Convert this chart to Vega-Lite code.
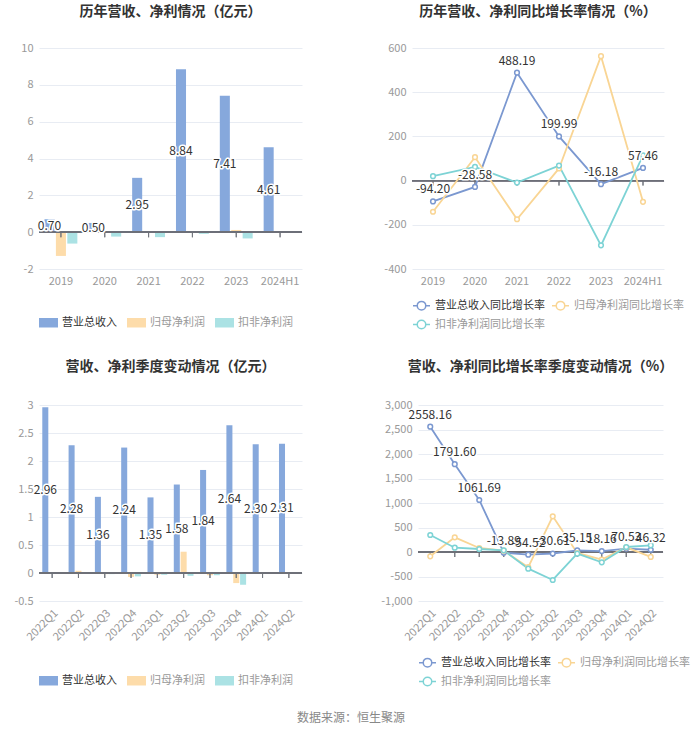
{
  "$schema": "https://vega.github.io/schema/vega-lite/v6.json",
  "background": "white",
  "padding": {"left": 12, "top": 5, "right": 5, "bottom": 5},
  "title": {"text": "数据来源：恒生聚源", "orient": "bottom", "anchor": "middle", "fontSize": 12, "fontWeight": "normal", "color": "#888888", "offset": 24},
  "config": {
    "font": "Noto Sans CJK SC",
    "view": {"stroke": null},
    "locale": {"number": {"decimal": ".", "thousands": ",", "grouping": [3], "currency": ["", ""], "minus": "-"}},
    "axis": {"domain": false, "ticks": false, "labelColor": "#999999", "labelFontSize": 11, "gridColor": "#e8ecf3", "labelPadding": 6},
    "axisX": {"grid": false},
    "axisY": {"labelOverlap": false},
    "title": {"fontSize": 14, "fontWeight": "bold", "color": "#333333", "anchor": "middle", "offset": 23},
    "legend": {"orient": "bottom", "direction": "horizontal", "title": null, "labelFontSize": 11, "labelColor": "#999999", "labelLimit": 300}
  },
  "spacing": 28,
  "resolve": {"scale": {"color": "independent", "stroke": "independent", "xOffset": "independent"}, "legend": {"color": "independent", "stroke": "independent"}},
  "vconcat": [
    {
      "spacing": 80,
      "resolve": {"scale": {"color": "independent", "stroke": "independent", "xOffset": "independent"}, "legend": {"color": "independent", "stroke": "independent"}},
      "hconcat": [
        {
          "width": 263, "height": 221,
          "title": "历年营收、净利情况（亿元）",
          "data": {"values": [
            {"year": "2019", "series": "营业总收入", "value": 0.70},
            {"year": "2019", "series": "归母净利润", "value": -1.29},
            {"year": "2019", "series": "扣非净利润", "value": -0.62},
            {"year": "2020", "series": "营业总收入", "value": 0.50},
            {"year": "2020", "series": "归母净利润", "value": 0.06},
            {"year": "2020", "series": "扣非净利润", "value": -0.24},
            {"year": "2021", "series": "营业总收入", "value": 2.95},
            {"year": "2021", "series": "归母净利润", "value": -0.03},
            {"year": "2021", "series": "扣非净利润", "value": -0.27},
            {"year": "2022", "series": "营业总收入", "value": 8.84},
            {"year": "2022", "series": "归母净利润", "value": -0.02},
            {"year": "2022", "series": "扣非净利润", "value": -0.09},
            {"year": "2023", "series": "营业总收入", "value": 7.41},
            {"year": "2023", "series": "归母净利润", "value": 0.12},
            {"year": "2023", "series": "扣非净利润", "value": -0.34},
            {"year": "2024H1", "series": "营业总收入", "value": 4.61},
            {"year": "2024H1", "series": "归母净利润", "value": -0.01},
            {"year": "2024H1", "series": "扣非净利润", "value": 0.01}
          ]},
          "layer": [
            {
              "layer": [
                {
                  "mark": {"type": "bar"},
                  "encoding": {
                    "x": {"field": "year", "type": "nominal", "sort": null, "title": null, "scale": {"paddingInner": 0.25, "paddingOuter": 0.125}, "axis": {"labelAngle": 0}},
                    "xOffset": {"field": "series", "type": "nominal", "sort": null, "scale": {"domain": ["营业总收入", "归母净利润", "扣非净利润"], "paddingInner": 0.12}},
                    "y": {"field": "value", "type": "quantitative", "title": null, "scale": {"domain": [-2, 10], "nice": false}, "axis": {"values": [-2, 0, 2, 4, 6, 8, 10], "tickCount": 7, "format": "d", "minExtent": 27, "labelOverlap": false}},
                    "color": {"field": "series", "type": "nominal", "scale": {"domain": ["营业总收入", "归母净利润", "扣非净利润"], "range": ["#86a8dc", "#fddcaa", "#abe2e4"]},
                      "legend": {"offset": 27, "symbolType": "M-1,-0.5H1V0.5H-1Z", "symbolSize": 361, "symbolStrokeWidth": 0, "columnPadding": 10,
                        "encode": {"labels": {"update": {"fill": {"signal": "datum.value == '营业总收入' ? '#333333' : '#999999'"}}}}}}
                  }
                },
                {"mark": {"type": "rule", "color": "#6e7079", "strokeWidth": 1}, "encoding": {"y": {"datum": 0}}},
                {"mark": {"type": "tick", "orient": "vertical", "size": 5, "thickness": 1, "yOffset": 2.5, "color": "#6e7079"},
                  "encoding": {"x": {"field": "year", "type": "nominal", "sort": null}, "y": {"datum": 0}}}
              ]
            },
            {
              "transform": [{"filter": "datum.series == '营业总收入'"}],
              "encoding": {
                "x": {"field": "year", "type": "nominal", "sort": null},
                "xOffset": {"field": "series", "type": "nominal", "sort": null, "scale": {"domain": ["营业总收入", "归母净利润", "扣非净利润"]}},
                "y": {"field": "value", "type": "quantitative", "scale": {"domain": [-4, 20], "nice": false}, "axis": null},
                "text": {"field": "value", "type": "quantitative", "format": ".2f"}
              },
              "layer": [
                {"mark": {"type": "text", "fontSize": 12, "fill": "white", "stroke": "white", "strokeWidth": 3, "strokeJoin": "round"}},
                {"mark": {"type": "text", "fontSize": 12, "fill": "#333333"}}
              ]
            }
          ],
          "resolve": {"scale": {"y": "independent"}}
        },
        {
          "width": 252, "height": 221,
          "title": "历年营收、净利同比增长率情况（%）",
          "data": {"values": [
            {"year": "2019", "series": "营业总收入同比增长率", "value": -94.20},
            {"year": "2020", "series": "营业总收入同比增长率", "value": -28.58},
            {"year": "2021", "series": "营业总收入同比增长率", "value": 488.19},
            {"year": "2022", "series": "营业总收入同比增长率", "value": 199.99},
            {"year": "2023", "series": "营业总收入同比增长率", "value": -16.18},
            {"year": "2024H1", "series": "营业总收入同比增长率", "value": 57.46},
            {"year": "2019", "series": "归母净利润同比增长率", "value": -141},
            {"year": "2020", "series": "归母净利润同比增长率", "value": 106},
            {"year": "2021", "series": "归母净利润同比增长率", "value": -175},
            {"year": "2022", "series": "归母净利润同比增长率", "value": 55},
            {"year": "2023", "series": "归母净利润同比增长率", "value": 563},
            {"year": "2024H1", "series": "归母净利润同比增长率", "value": -96},
            {"year": "2019", "series": "扣非净利润同比增长率", "value": 20},
            {"year": "2020", "series": "扣非净利润同比增长率", "value": 62},
            {"year": "2021", "series": "扣非净利润同比增长率", "value": -9},
            {"year": "2022", "series": "扣非净利润同比增长率", "value": 68},
            {"year": "2023", "series": "扣非净利润同比增长率", "value": -293},
            {"year": "2024H1", "series": "扣非净利润同比增长率", "value": 114}
          ]},
          "encoding": {
            "x": {"field": "year", "type": "nominal", "sort": null, "title": null, "scale": {"paddingInner": 0, "paddingOuter": 0}, "axis": {"labelAngle": 0}},
            "y": {"field": "value", "type": "quantitative", "title": null, "scale": {"domain": [-400, 600], "nice": false}, "axis": {"values": [-400, -200, 0, 200, 400, 600]}}
          },
          "layer": [
            {"mark": {"type": "rule", "color": "#6e7079", "strokeWidth": 1}, "encoding": {"x": {"value": 0}, "x2": {"value": 252}, "y": {"datum": 0}}},
            {"mark": {"type": "tick", "orient": "vertical", "size": 5, "thickness": 1, "yOffset": 2.5, "color": "#6e7079"}, "encoding": {"y": {"datum": 0}}},
            {"mark": {"type": "line", "strokeWidth": 1.8},
              "encoding": {"color": {"field": "series", "type": "nominal", "sort": null,
                "scale": {"domain": ["营业总收入同比增长率", "归母净利润同比增长率", "扣非净利润同比增长率"], "range": ["#7b98d0", "#f9d594", "#7dd3d5"]},
                "legend": {"columns": 2, "offset": 10, "symbolType": "M-1,0H-0.5M0.5,0H1M0.5,0A0.5,0.5,0,1,1,-0.5,0A0.5,0.5,0,1,1,0.5,0", "symbolSize": 289, "symbolStrokeWidth": 1.5, "symbolFillColor": "white", "columnPadding": 4, "rowPadding": 2,
                  "encode": {"labels": {"update": {"fill": {"signal": "datum.value == '营业总收入同比增长率' ? '#333333' : '#999999'"}}}}}}}},
            {"mark": {"type": "point", "filled": true, "fill": "white", "size": 22, "strokeWidth": 1.5, "opacity": 1},
              "encoding": {"stroke": {"field": "series", "type": "nominal", "scale": {"domain": ["营业总收入同比增长率", "归母净利润同比增长率", "扣非净利润同比增长率"], "range": ["#7b98d0", "#f9d594", "#7dd3d5"]}, "legend": null}}},
            {"transform": [{"filter": "datum.series == '营业总收入同比增长率'"}],
              "mark": {"type": "text", "fontSize": 12, "baseline": "bottom", "dy": -5, "fill": "white", "stroke": "white", "strokeWidth": 3, "strokeJoin": "round"},
              "encoding": {"text": {"field": "value", "type": "quantitative", "format": ".2f"}}},
            {"transform": [{"filter": "datum.series == '营业总收入同比增长率'"}],
              "mark": {"type": "text", "fontSize": 12, "baseline": "bottom", "dy": -5, "fill": "#333333"},
              "encoding": {"text": {"field": "value", "type": "quantitative", "format": ".2f"}}}
          ]
        }
      ]
    },
    {
      "spacing": 77,
      "resolve": {"scale": {"color": "independent", "stroke": "independent", "xOffset": "independent"}, "legend": {"color": "independent", "stroke": "independent"}},
      "hconcat": [
        {
          "width": 263, "height": 196,
          "title": {"text": "营收、净利季度变动情况（亿元）", "offset": 25},
          "data": {"values": [
            {"q": "2022Q1", "series": "营业总收入", "value": 2.96},
            {"q": "2022Q1", "series": "归母净利润", "value": 0.01},
            {"q": "2022Q1", "series": "扣非净利润", "value": 0.01},
            {"q": "2022Q2", "series": "营业总收入", "value": 2.28},
            {"q": "2022Q2", "series": "归母净利润", "value": 0.04},
            {"q": "2022Q2", "series": "扣非净利润", "value": 0.0},
            {"q": "2022Q3", "series": "营业总收入", "value": 1.36},
            {"q": "2022Q3", "series": "归母净利润", "value": -0.02},
            {"q": "2022Q3", "series": "扣非净利润", "value": -0.02},
            {"q": "2022Q4", "series": "营业总收入", "value": 2.24},
            {"q": "2022Q4", "series": "归母净利润", "value": -0.07},
            {"q": "2022Q4", "series": "扣非净利润", "value": -0.06},
            {"q": "2023Q1", "series": "营业总收入", "value": 1.35},
            {"q": "2023Q1", "series": "归母净利润", "value": -0.03},
            {"q": "2023Q1", "series": "扣非净利润", "value": -0.03},
            {"q": "2023Q2", "series": "营业总收入", "value": 1.58},
            {"q": "2023Q2", "series": "归母净利润", "value": 0.38},
            {"q": "2023Q2", "series": "扣非净利润", "value": -0.05},
            {"q": "2023Q3", "series": "营业总收入", "value": 1.84},
            {"q": "2023Q3", "series": "归母净利润", "value": -0.04},
            {"q": "2023Q3", "series": "扣非净利润", "value": -0.04},
            {"q": "2023Q4", "series": "营业总收入", "value": 2.64},
            {"q": "2023Q4", "series": "归母净利润", "value": -0.18},
            {"q": "2023Q4", "series": "扣非净利润", "value": -0.21},
            {"q": "2024Q1", "series": "营业总收入", "value": 2.30},
            {"q": "2024Q1", "series": "归母净利润", "value": 0.0},
            {"q": "2024Q1", "series": "扣非净利润", "value": 0.0},
            {"q": "2024Q2", "series": "营业总收入", "value": 2.31},
            {"q": "2024Q2", "series": "归母净利润", "value": 0.0},
            {"q": "2024Q2", "series": "扣非净利润", "value": 0.01}
          ]},
          "layer": [
            {
              "layer": [
                {
                  "mark": {"type": "bar"},
                  "encoding": {
                    "x": {"field": "q", "type": "nominal", "sort": null, "title": null, "scale": {"paddingInner": 0.25, "paddingOuter": 0.125}, "axis": {"labelAngle": -45}},
                    "xOffset": {"field": "series", "type": "nominal", "sort": null, "scale": {"domain": ["营业总收入", "归母净利润", "扣非净利润"], "paddingInner": 0.12}},
                    "y": {"field": "value", "type": "quantitative", "title": null, "scale": {"domain": [-0.5, 3], "nice": false}, "axis": {"values": [-0.5, 0, 0.5, 1, 1.5, 2, 2.5, 3], "tickCount": 8, "format": "~g", "minExtent": 27, "labelOverlap": false}},
                    "color": {"field": "series", "type": "nominal", "scale": {"domain": ["营业总收入", "归母净利润", "扣非净利润"], "range": ["#86a8dc", "#fddcaa", "#abe2e4"]},
                      "legend": {"offset": 28, "symbolType": "M-1,-0.5H1V0.5H-1Z", "symbolSize": 361, "symbolStrokeWidth": 0, "columnPadding": 10,
                        "encode": {"labels": {"update": {"fill": {"signal": "datum.value == '营业总收入' ? '#333333' : '#999999'"}}}}}}
                  }
                },
                {"mark": {"type": "rule", "color": "#6e7079", "strokeWidth": 1}, "encoding": {"y": {"datum": 0}}},
                {"mark": {"type": "tick", "orient": "vertical", "size": 5, "thickness": 1, "yOffset": 2.5, "color": "#6e7079"},
                  "encoding": {"x": {"field": "q", "type": "nominal", "sort": null}, "y": {"datum": 0}}}
              ]
            },
            {
              "transform": [{"filter": "datum.series == '营业总收入'"}],
              "encoding": {
                "x": {"field": "q", "type": "nominal", "sort": null},
                "xOffset": {"field": "series", "type": "nominal", "sort": null, "scale": {"domain": ["营业总收入", "归母净利润", "扣非净利润"]}},
                "y": {"field": "value", "type": "quantitative", "scale": {"domain": [-1, 6], "nice": false}, "axis": null},
                "text": {"field": "value", "type": "quantitative", "format": ".2f"}
              },
              "layer": [
                {"mark": {"type": "text", "fontSize": 12, "fill": "white", "stroke": "white", "strokeWidth": 3, "strokeJoin": "round"}},
                {"mark": {"type": "text", "fontSize": 12, "fill": "#333333"}}
              ]
            }
          ],
          "resolve": {"scale": {"y": "independent"}}
        },
        {
          "width": 245, "height": 196,
          "title": {"text": "营收、净利同比增长率季度变动情况（%）", "offset": 25},
          "data": {"values": [
            {"q": "2022Q1", "series": "营业总收入同比增长率", "value": 2558.16},
            {"q": "2022Q2", "series": "营业总收入同比增长率", "value": 1791.60},
            {"q": "2022Q3", "series": "营业总收入同比增长率", "value": 1061.69},
            {"q": "2022Q4", "series": "营业总收入同比增长率", "value": -13.89},
            {"q": "2023Q1", "series": "营业总收入同比增长率", "value": -54.52},
            {"q": "2023Q2", "series": "营业总收入同比增长率", "value": -30.61},
            {"q": "2023Q3", "series": "营业总收入同比增长率", "value": 35.15},
            {"q": "2023Q4", "series": "营业总收入同比增长率", "value": 18.16},
            {"q": "2024Q1", "series": "营业总收入同比增长率", "value": 70.53},
            {"q": "2024Q2", "series": "营业总收入同比增长率", "value": 46.32},
            {"q": "2022Q1", "series": "归母净利润同比增长率", "value": -88},
            {"q": "2022Q2", "series": "归母净利润同比增长率", "value": 299},
            {"q": "2022Q3", "series": "归母净利润同比增长率", "value": 82},
            {"q": "2022Q4", "series": "归母净利润同比增长率", "value": 27},
            {"q": "2023Q1", "series": "归母净利润同比增长率", "value": -310},
            {"q": "2023Q2", "series": "归母净利润同比增长率", "value": 728},
            {"q": "2023Q3", "series": "归母净利润同比增长率", "value": -20},
            {"q": "2023Q4", "series": "归母净利润同比增长率", "value": -156},
            {"q": "2024Q1", "series": "归母净利润同比增长率", "value": 95},
            {"q": "2024Q2", "series": "归母净利润同比增长率", "value": -100},
            {"q": "2022Q1", "series": "扣非净利润同比增长率", "value": 347},
            {"q": "2022Q2", "series": "扣非净利润同比增长率", "value": 88},
            {"q": "2022Q3", "series": "扣非净利润同比增长率", "value": 61},
            {"q": "2022Q4", "series": "扣非净利润同比增长率", "value": 34},
            {"q": "2023Q1", "series": "扣非净利润同比增长率", "value": -340},
            {"q": "2023Q2", "series": "扣非净利润同比增长率", "value": -571},
            {"q": "2023Q3", "series": "扣非净利润同比增长率", "value": -34},
            {"q": "2023Q4", "series": "扣非净利润同比增长率", "value": -211},
            {"q": "2024Q1", "series": "扣非净利润同比增长率", "value": 102},
            {"q": "2024Q2", "series": "扣非净利润同比增长率", "value": 136}
          ]},
          "encoding": {
            "x": {"field": "q", "type": "nominal", "sort": null, "title": null, "scale": {"paddingInner": 0, "paddingOuter": 0}, "axis": {"labelAngle": -45}},
            "y": {"field": "value", "type": "quantitative", "title": null, "scale": {"domain": [-1000, 3000], "nice": false}, "axis": {"values": [-1000, -500, 0, 500, 1000, 1500, 2000, 2500, 3000], "format": ",.0f"}}
          },
          "layer": [
            {"mark": {"type": "rule", "color": "#6e7079", "strokeWidth": 1}, "encoding": {"x": {"value": 0}, "x2": {"value": 245}, "y": {"datum": 0}}},
            {"mark": {"type": "tick", "orient": "vertical", "size": 5, "thickness": 1, "yOffset": 2.5, "color": "#6e7079"}, "encoding": {"y": {"datum": 0}}},
            {"mark": {"type": "line", "strokeWidth": 1.8},
              "encoding": {"color": {"field": "series", "type": "nominal", "sort": null,
                "scale": {"domain": ["营业总收入同比增长率", "归母净利润同比增长率", "扣非净利润同比增长率"], "range": ["#7b98d0", "#f9d594", "#7dd3d5"]},
                "legend": {"columns": 2, "offset": 10, "symbolType": "M-1,0H-0.5M0.5,0H1M0.5,0A0.5,0.5,0,1,1,-0.5,0A0.5,0.5,0,1,1,0.5,0", "symbolSize": 289, "symbolStrokeWidth": 1.5, "symbolFillColor": "white", "columnPadding": 4, "rowPadding": 2,
                  "encode": {"labels": {"update": {"fill": {"signal": "datum.value == '营业总收入同比增长率' ? '#333333' : '#999999'"}}}}}}}},
            {"mark": {"type": "point", "filled": true, "fill": "white", "size": 22, "strokeWidth": 1.5, "opacity": 1},
              "encoding": {"stroke": {"field": "series", "type": "nominal", "scale": {"domain": ["营业总收入同比增长率", "归母净利润同比增长率", "扣非净利润同比增长率"], "range": ["#7b98d0", "#f9d594", "#7dd3d5"]}, "legend": null}}},
            {"transform": [{"filter": "datum.series == '营业总收入同比增长率'"}],
              "mark": {"type": "text", "fontSize": 12, "baseline": "bottom", "dy": -5, "fill": "white", "stroke": "white", "strokeWidth": 3, "strokeJoin": "round"},
              "encoding": {"text": {"field": "value", "type": "quantitative", "format": ".2f"}}},
            {"transform": [{"filter": "datum.series == '营业总收入同比增长率'"}],
              "mark": {"type": "text", "fontSize": 12, "baseline": "bottom", "dy": -5, "fill": "#333333"},
              "encoding": {"text": {"field": "value", "type": "quantitative", "format": ".2f"}}}
          ]
        }
      ]
    }
  ]
}
